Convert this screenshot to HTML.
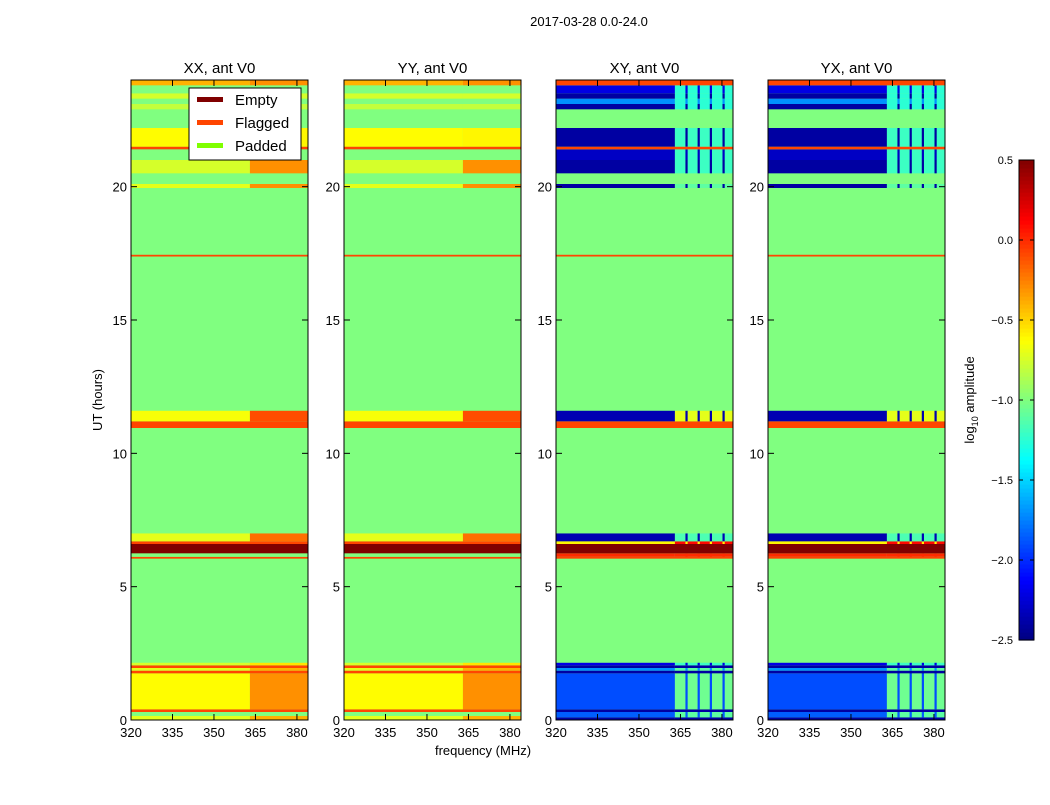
<!DOCTYPE html>
<html><head><meta charset="utf-8"><style>
body{margin:0;background:#fff;font-family:"Liberation Sans",sans-serif;}
svg text{font-family:"Liberation Sans",sans-serif;}
</style></head><body>
<svg id="fig" width="1050" height="800" xmlns="http://www.w3.org/2000/svg">
<rect width="1050" height="800" fill="#fff"/>
<text x="589" y="26" font-size="13" text-anchor="middle">2017-03-28 0.0-24.0</text>
<text x="0" y="0" font-size="13" text-anchor="middle" transform="translate(102,400) rotate(-90)">UT (hours)</text>
<text x="483" y="755" font-size="13" text-anchor="middle">frequency (MHz)</text>
<g id="panels"></g>
<g id="cbar"></g>
<text font-size="13" text-anchor="middle" transform="translate(974,400) rotate(-90)">log<tspan font-size="9" dy="4">10</tspan><tspan dy="-4"> amplitude</tspan></text>
<g>
<rect x="189" y="88" width="112" height="72" fill="#fff" stroke="#000" stroke-width="1"/>
<rect x="197" y="97" width="26" height="5" fill="#800000"/>
<text x="235" y="105" font-size="15">Empty</text>
<rect x="197" y="120" width="26" height="5" fill="#ff4500"/>
<text x="235" y="128" font-size="15">Flagged</text>
<rect x="197" y="143" width="26" height="5" fill="#7fff00"/>
<text x="235" y="151" font-size="15">Padded</text>
</g>
</svg>
<script>
const panelTitles = ["XX, ant V0","YY, ant V0","XY, ant V0","YX, ant V0"];
const xTicks = [320,335,350,365,380];
const yTicks = [0,5,10,15,20];
const cbTicks = [0.5,0.0,-0.5,-1.0,-1.5,-2.0,-2.5];
const cbTickLabels = ["0.5","0.0","\u22120.5","\u22121.0","\u22121.5","\u22122.0","\u22122.5"];
const stripeGaps = [366.8,371.2,375.6,380.2];
// [startHour, endHour, kind, leftValue, rightValue]
const bandsPar = [
[0,0.15,'D',-0.7,-0.4],[0.15,0.3,'G'],[0.3,0.4,'F'],[0.4,1.75,'D',-0.62,-0.3],
[1.75,1.85,'F'],[1.85,1.95,'D',-0.7,-0.4],[1.95,2.05,'F'],[2.05,2.15,'D',-0.75,-0.55],
[2.15,6.05,'G'],[6.05,6.12,'F'],[6.12,6.25,'G'],[6.25,6.6,'E'],[6.6,6.7,'F'],
[6.7,7.0,'D',-0.7,-0.2],[7.0,10.95,'G'],[10.95,11.2,'F'],[11.2,11.6,'D',-0.65,-0.1],
[11.6,17.38,'G'],[17.38,17.45,'F'],[17.45,19.95,'G'],[19.95,20.1,'D',-0.7,-0.3],
[20.1,20.5,'G'],[20.5,21.0,'D',-0.75,-0.3],[21.0,21.4,'G'],[21.4,21.5,'F'],
[21.5,22.2,'D',-0.62,-0.6],[22.2,22.9,'G'],[22.9,23.1,'D',-0.8,-0.8],[23.1,23.3,'G'],
[23.3,23.5,'D',-0.75,-0.75],[23.5,23.8,'G'],[23.8,24,'D',-0.4,-0.3]];
const bandsCross = [
[0,0.1,'D',-2.4,-2.4],[0.1,0.3,'D',-1.85,-1.1],[0.3,0.4,'D',-2.4,-2.4],[0.4,1.75,'D',-1.9,-1.05],
[1.75,1.85,'D',-2.4,-2.4],[1.85,1.95,'D',-1.7,-1.1],[1.95,2.05,'D',-2.4,-2.4],[2.05,2.15,'D',-2.2,-1.2],
[2.15,6.05,'G'],[6.05,6.12,'F'],[6.12,6.25,'D',0.0,0.0],[6.25,6.6,'E'],[6.6,6.7,'D',-0.6,0.1],
[6.7,7.0,'D',-2.35,-1.15],[7.0,10.95,'G'],[10.95,11.2,'F'],[11.2,11.6,'D',-2.35,-0.7],
[11.6,17.38,'G'],[17.38,17.45,'F'],[17.45,19.95,'G'],[19.95,20.1,'D',-2.4,-1.1],
[20.1,20.5,'G'],[20.5,21.0,'D',-2.4,-1.2],[21.0,21.4,'D',-2.3,-1.2],[21.4,21.5,'F'],
[21.5,22.2,'D',-2.4,-1.2],[22.2,22.9,'G'],[22.9,23.1,'D',-2.4,-1.25],[23.1,23.3,'D',-1.7,-1.25],
[23.3,23.5,'D',-2.4,-1.25],[23.5,23.8,'D',-2.2,-1.25],[23.8,24,'F']];
const panelBands = [bandsPar,bandsPar,bandsCross,bandsCross];

const NS="http://www.w3.org/2000/svg";
const panelX=[131,344,556,768], PW=177, PT=80, PB=720;
const fmin=320,fmax=384, tmin=0,tmax=24, vmin=-2.5,vmax=0.5;
const xs=(f,i)=>panelX[i]+(f-fmin)/(fmax-fmin)*PW;
const ys=t=>PB-(t-tmin)/(tmax-tmin)*(PB-PT);
function jet(v){let x=Math.max(0,Math.min(1,(v-vmin)/(vmax-vmin)));
 const c=t=>Math.round(255*Math.max(0,Math.min(1,1.5-Math.abs(4*x-t))));
 return `rgb(${c(3)},${c(2)},${c(1)})`;}
function mk(tag,attrs,parent){const e=document.createElementNS(NS,tag);for(const k in attrs)e.setAttribute(k,attrs[k]);parent.appendChild(e);return e;}
const G=document.getElementById('panels');
const kindColor={G:'#80ff80',F:'#ff4500',E:'#800000'};
panelBands.forEach((bands,i)=>{
 const g=mk('g',{},G);
 
 
 mk('rect',{x:panelX[i],y:PT,width:PW,height:PB-PT,fill:'#80ff80'},g);
 bands.forEach(b=>{
  const y1=ys(b[1]),y0=ys(b[0]),h=y0-y1;
  if(b[2]!=='D'){const r=mk('rect',{x:panelX[i],y:y1,width:PW,height:h,fill:kindColor[b[2]]},g);
   return;}
  const r1=mk('rect',{x:panelX[i],y:y1,width:xs(363,i)-panelX[i],height:h,fill:jet(b[3])},g);
  
  const r2=mk('rect',{x:xs(363,i),y:y1,width:xs(fmax,i)-xs(363,i),height:h,fill:jet(b[4])},g);
  
  if(i>=2){stripeGaps.forEach(f=>{const s=mk('rect',{x:xs(f,i),y:y1,width:xs(f+0.8,i)-xs(f,i),height:h,fill:jet(b[3])},g);
   });}
 });
 mk('rect',{x:panelX[i],y:PT,width:PW,height:PB-PT,fill:'none',stroke:'#000','stroke-width':1},g);
 const t=mk('text',{x:panelX[i]+PW/2,y:73,'font-size':15,'text-anchor':'middle'},g);t.textContent=panelTitles[i];
 
 xTicks.forEach(f=>{const x=xs(f,i);
  mk('line',{x1:x,x2:x,y1:PB,y2:PB-6,stroke:'#000'},g);mk('line',{x1:x,x2:x,y1:PT,y2:PT+6,stroke:'#000'},g);
  const l=mk('text',{x:x,y:PB+17,'font-size':13,'text-anchor':'middle'},g);l.textContent=f;
  });
 yTicks.forEach(v=>{const y=ys(v);
  mk('line',{x1:panelX[i],x2:panelX[i]+6,y1:y,y2:y,stroke:'#000'},g);mk('line',{x1:panelX[i]+PW,x2:panelX[i]+PW-6,y1:y,y2:y,stroke:'#000'},g);
  const l=mk('text',{x:panelX[i]-4,y:y+5,'font-size':13,'text-anchor':'end'},g);l.textContent=v;
  });
});
// colorbar
const C=document.getElementById('cbar');

const CB={x:1019,w:15,top:160,bot:640};
const cy=v=>CB.bot-(v-vmin)/(vmax-vmin)*(CB.bot-CB.top);
for(let k=0;k<120;k++){const v0=vmin+k*(vmax-vmin)/120,v1=v0+(vmax-vmin)/120;
 mk('rect',{x:CB.x,y:cy(v1),width:CB.w,height:cy(v0)-cy(v1)+0.6,fill:jet((v0+v1)/2)},C);}
mk('rect',{x:CB.x,y:CB.top,width:CB.w,height:CB.bot-CB.top,fill:'none',stroke:'#000'},C);
cbTicks.forEach((v,k)=>{const y=cy(v);
 mk('line',{x1:CB.x,x2:CB.x+4,y1:y,y2:y,stroke:'#000'},C);mk('line',{x1:CB.x+CB.w,x2:CB.x+CB.w-4,y1:y,y2:y,stroke:'#000'},C);
 const l=mk('text',{x:1013,y:y+4,'font-size':11,'text-anchor':'end'},C);l.textContent=cbTickLabels[k];
 });
</script>
</body></html>
